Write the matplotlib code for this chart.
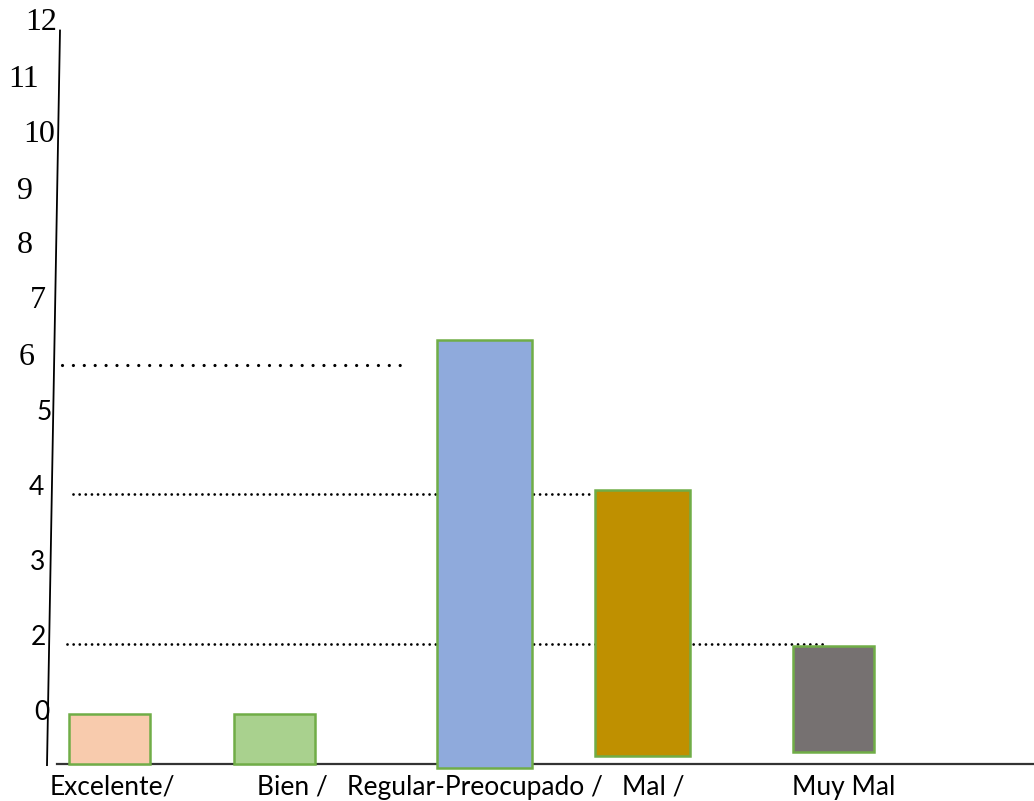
import matplotlib.pyplot as plt

# values (chart units, baseline ~0.2)
categories = ['Excelente/', 'Bien /', 'Regular-Preocupado /', 'Mal /', 'Muy Mal']
bar_tops = [0.95, 0.96, 6.33, 4.17, 1.93]
bar_bottoms = [0.20, 0.20, 0.14, 0.32, 0.37]
bar_colors = ['#F8CBAD', '#A9D18E', '#8FAADC', '#BF9000', '#767171']

tick_labels = ['12', '11', '10', '9', '8', '7', '6', '5', '4', '3', '2', '0']
tick_pos = [10.88, 10.07, 9.27, 8.46, 7.67, 6.88, 6.07, 5.27, 4.19, 3.11, 2.04, 0.96]

guide_levels = [5.96, 4.10, 1.94]

# layout (pixel-like x positions, hand-placed in the original)
bar_left = [68, 233, 436, 594, 792]
bar_width = [83, 83, 97, 97, 83]
label_left = [50, 257, 347, 622, 792]
tick_x = [41, 24, 39, 25, 25, 38, 27, 44, 36, 38, 38, 42]
guide_x = [(62, 405), (73, 592), (67, 828)]
guide_gap = [3.4, 2.2, 2.2]
guide_lw = [2.3, 2.0, 2.0]

fig = plt.figure(figsize=(10.34, 8.01), dpi=100)
ax = fig.add_axes([0, 0, 1, 1])
ax.set_xlim(0, 1034)
ax.set_ylim(-0.3165, 11.209)
ax.axis('off')

# dotted guide lines (drawn under bars)
for lvl, (x0, x1), gap, lw in zip(guide_levels, guide_x, guide_gap, guide_lw):
    ln, = ax.plot([x0, x1], [lvl, lvl], color='black', lw=lw, zorder=1,
                  solid_capstyle='round', dash_capstyle='round')
    ln.set_dashes([0.01, gap])

# axes lines
ax.plot([60, 47], [10.77, 0.20], color='black', lw=1.3, zorder=2)
ax.plot([57, 1034], [0.22, 0.22], color='#333333', lw=1.6, zorder=2)

for left, w, b, t, c in zip(bar_left, bar_width, bar_bottoms, bar_tops, bar_colors):
    ax.bar(left + 1.25, t - b - 0.036, width=w - 2.5, bottom=b + 0.018, align='edge',
           color=c, edgecolor='#70AD47', linewidth=1.8, zorder=3)

for lbl, x, y in zip(tick_labels, tick_x, tick_pos):
    if int(lbl) >= 6:
        ax.text(x, y, lbl, ha='center', va='center', fontsize=23,
                family='Liberation Serif', color='black')
    else:
        ax.text(x, y, lbl, ha='center', va='center', fontsize=19,
                family='Lato', color='black')

for lbl, x in zip(categories, label_left):
    ax.text(x, -0.23, lbl, ha='left', va='baseline', fontsize=19,
            family='Lato', color='black')

fig.savefig('out.png', dpi=100, facecolor='white')
